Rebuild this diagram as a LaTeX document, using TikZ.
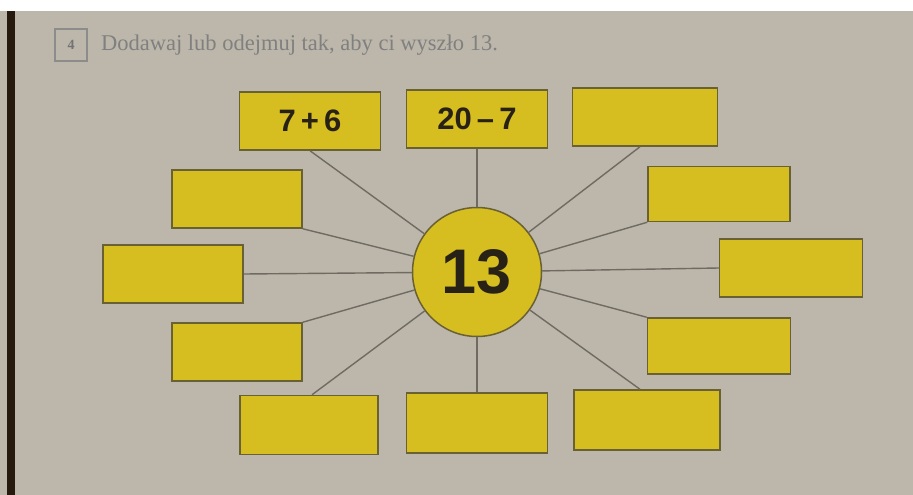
\documentclass[tikz,border=0pt]{standalone}
\usepackage{fontspec}
\setmainfont{Liberation Serif}
\newfontfamily\numfont{Liberation Sans}
\usepackage{xcolor}
\usepackage{tikz}
\usetikzlibrary{positioning}
\definecolor{paper}{RGB}{188,183,170}
\definecolor{boxyellow}{RGB}{214,189,32}
\definecolor{boxedge}{RGB}{105,96,52}
\definecolor{spoke}{RGB}{112,107,98}
\definecolor{inkdark}{RGB}{40,34,22}

\begin{document}
\begin{tikzpicture}[
      x=1pt, y=-1pt,
      answer/.style={draw=boxedge, fill=boxyellow, line width=1.5pt,
                     minimum width=141pt, minimum height=58pt,
                     inner sep=0pt, text=inkdark,
                     font=\numfont\bfseries\fontsize{31}{31}\selectfont},
      spokeline/.style={draw=spoke, line width=1.4pt}
    ]
    % page
    \fill[white] (0,0) rectangle (913,495);
    \fill[paper] (0,11) rectangle (913,495);
    \fill[black!80!brown] (7,11) rectangle (15,495);
    \useasboundingbox (0,0) rectangle (913,495);

    % heading
    \node[draw=black!45, line width=1.2pt, minimum size=32pt, inner sep=0pt,
          text=black!55, font=\bfseries\fontsize{14}{14}\selectfont] (num) at (71,45) {4};
    \node[right=10pt of num, text=black!50,
          font=\fontsize{22.5}{22.5}\selectfont] (task)
      {Dodawaj lub odejmuj tak, aby ci wyszło 13.};

    % centre
    \node[circle, draw=boxedge, fill=boxyellow, line width=1.5pt,
          minimum size=129pt, inner sep=0pt, text=inkdark,
          font=\numfont\bfseries\fontsize{63}{63}\selectfont] (c) at (477,272) {13};

    % boxes
    \node[answer] (t1) at (310,121) {7\,+\,6};
    \node[answer] (t2) at (477,119) {20\,–\,7};
    \node[answer, minimum width=145pt] (t3) at (645,117) {};
    \node[answer, minimum width=130pt] (l2) at (237,199) {};
    \node[answer, minimum width=142pt, minimum height=55pt] (r2) at (719,194) {};
    \node[answer, minimum width=140pt] (l3) at (173,274) {};
    \node[answer, minimum width=143pt] (r3) at (791,268) {};
    \node[answer, minimum width=130pt] (l4) at (237,352) {};
    \node[answer, minimum width=143pt, minimum height=56pt] (r4) at (719,346) {};
    \node[answer, minimum width=138pt, minimum height=59pt] (b1) at (309,425) {};
    \node[answer, minimum height=60pt] (b2) at (477,423) {};
    \node[answer, minimum width=146pt, minimum height=60pt] (b3) at (647,420) {};

    % spokes
    \draw[spokeline] (c) -- (t1.south);
    \draw[spokeline] (c) -- (t2.south);
    \draw[spokeline] (c) -- ([xshift=-5pt]t3.south);
    \draw[spokeline] (c) -- (l2.south east);
    \draw[spokeline] (c) -- (r2.south west);
    \draw[spokeline] (c) -- (l3.east);
    \draw[spokeline] (c) -- (r3.west);
    \draw[spokeline] (c) -- (l4.north east);
    \draw[spokeline] (c) -- (r4.north west);
    \draw[spokeline] (c) -- ([xshift=3pt]b1.north);
    \draw[spokeline] (c) -- (b2.north);
    \draw[spokeline] (c) -- ([xshift=-7pt]b3.north);
  \end{tikzpicture}
\end{document}
